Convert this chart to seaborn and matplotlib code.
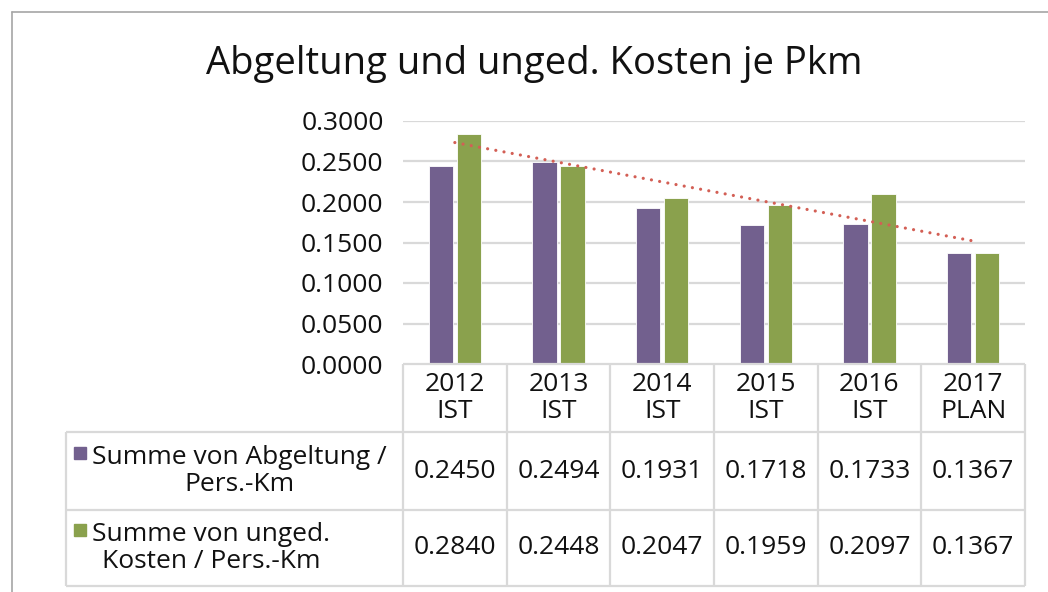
import numpy as np
import pandas as pd
import matplotlib
matplotlib.use("Agg")
import matplotlib.pyplot as plt
import seaborn as sns
from matplotlib.lines import Line2D

# Daten
jahre = ["2012\nIST", "2013\nIST", "2014\nIST", "2015\nIST", "2016\nIST", "2017\nPLAN"]
abgeltung = [0.2450, 0.2494, 0.1931, 0.1718, 0.1733, 0.1367]
ungedeckt = [0.2840, 0.2448, 0.2047, 0.1959, 0.2097, 0.1367]
serien = ["Summe von Abgeltung /\nPers.-Km", "Summe von unged.\nKosten / Pers.-Km"]
y_ticks = [0.0, 0.05, 0.10, 0.15, 0.20, 0.25, 0.30]

farben = ["#72608E", "#8AA14D"]
trend_farbe = "#D35F55"
linie_grau = "#D9D9D9"

df = pd.DataFrame({
    "Jahr": jahre * 2,
    "Wert": abgeltung + ungedeckt,
    "Serie": [serien[0]] * len(jahre) + [serien[1]] * len(jahre),
})

sns.set_style("white")
plt.rcParams["font.family"] = ["Open Sans", "DejaVu Sans"]

W, H = 1048, 592
fig = plt.figure(figsize=(W / 100, H / 100), dpi=100)

def fx(px):
    return px / W

def fy(py):
    return 1 - py / H

# Rahmen
fig.add_artist(Line2D([fx(12), fx(12)], [fy(12), 0], color="#A6A6A6", lw=1.2))
fig.add_artist(Line2D([fx(12), 1], [fy(12), fy(12)], color="#A6A6A6", lw=1.2))

# Titel
fig.text(fx(534), fy(64), "Abgeltung und unged. Kosten je Pkm", ha="center", va="center",
         fontsize=27.5, color="#111111")

# Diagramm
ax_l, ax_r, ax_t, ax_b = 403, 1025, 121, 364
ax = fig.add_axes([fx(ax_l), fy(ax_b), fx(ax_r - ax_l), (ax_b - ax_t) / H])
sns.barplot(data=df, x="Jahr", y="Wert", hue="Serie", palette=farben, width=0.54, gap=0.14,
            edgecolor="white", linewidth=0.6, saturation=1, legend=False, ax=ax, zorder=3)

xs = np.arange(len(jahre))
k, d = np.polyfit(xs, ungedeckt, 1)
ax.plot(xs, k * xs + d, color=trend_farbe, lw=2.3, linestyle=(0, (0.01, 2.6)),
        dash_capstyle="round", zorder=4)

ax.set_xlim(-0.5, len(jahre) - 0.5)
ax.set_ylim(0, 0.3)
ax.set_yticks(y_ticks)
ax.set_yticklabels([f"{v:.4f}" for v in y_ticks], fontsize=19, color="#111111")
ax.set_xticks([])
ax.set_xlabel("")
ax.set_ylabel("")
ax.tick_params(axis="y", length=0, pad=14)
for s in ax.spines.values():
    s.set_visible(False)
for v in y_ticks[1:]:
    ax.axhline(v, color=linie_grau, lw=1.6, zorder=1)

# Datentabelle
tab_l, tab_t, tab_b = 66, 364, 586
cat_w = (ax_r - ax_l) / len(jahre)
x_links = -0.5 - (ax_l - tab_l) / cat_w
tab = fig.add_axes([fx(tab_l), fy(tab_b), fx(ax_r - tab_l), (tab_b - tab_t) / H])
tab.set_xlim(x_links, len(jahre) - 0.5)
tab.set_ylim(tab_b - tab_t, 0)
tab.axis("off")

zeilen = [0, 68, 146, 222]
kw = dict(color=linie_grau, lw=1.6, clip_on=False, solid_capstyle="butt")
tab.plot([-0.5, len(jahre) - 0.5], [zeilen[0]] * 2, **kw)
for z in zeilen[1:]:
    tab.plot([x_links, len(jahre) - 0.5], [z, z], **kw)
tab.plot([x_links, x_links], [zeilen[1], zeilen[3]], **kw)
for i in range(len(jahre) + 1):
    tab.plot([i - 0.5, i - 0.5], [zeilen[0], zeilen[3]], **kw)

tfs = 19
for i, j in enumerate(jahre):
    tab.text(i, (zeilen[0] + zeilen[1]) / 2, j, ha="center", va="center",
             multialignment="center", fontsize=tfs, color="#111111", linespacing=1.1)

for r, (werte, name, farbe) in enumerate(zip([abgeltung, ungedeckt], serien, farben)):
    yc = (zeilen[r + 1] + zeilen[r + 2]) / 2
    for i, v in enumerate(werte):
        tab.text(i, yc, f"{v:.4f}", ha="center", va="center", fontsize=tfs, color="#111111")
    tab.text(x_links + (92 - tab_l) / cat_w, yc, name, ha="left", va="center",
             multialignment="center", fontsize=tfs, color="#111111", linespacing=1.1)
    tab.plot([x_links + (80 - tab_l) / cat_w], [yc - 18], marker="s", markersize=8.5,
             color=farbe, clip_on=False)

fig.savefig("out.png", dpi=100)
